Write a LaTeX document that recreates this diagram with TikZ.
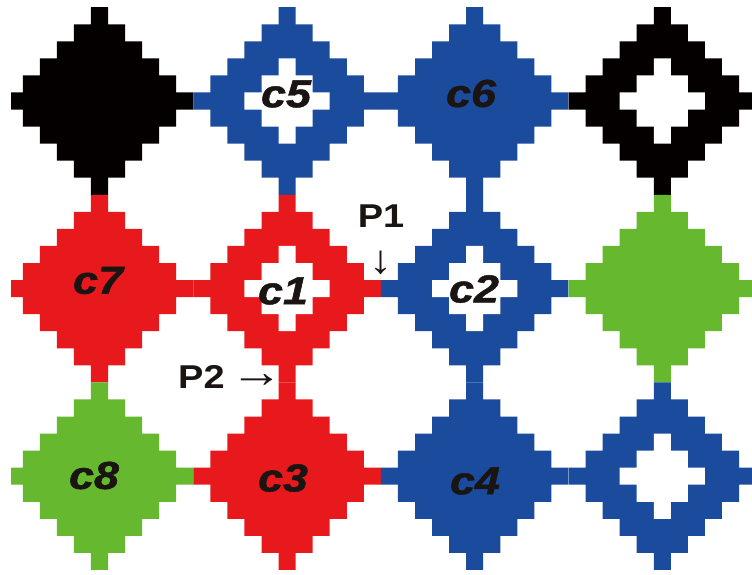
\documentclass[tikz,border=0pt]{standalone}
\usepackage{fontspec}
\setmainfont{Liberation Sans}
\newfontfamily\clabfont[FakeBold=1.2]{Liberation Sans}
\definecolor{cblk}{HTML}{050000}
\definecolor{cblu}{HTML}{1B4B9C}
\definecolor{cred}{HTML}{E8191D}
\definecolor{cgrn}{HTML}{66B82F}
\definecolor{ink}{HTML}{1A1412}
\tikzset{
  clab/.style={inner sep=0pt, text=ink, xscale=1.15,
    font=\clabfont\fontsize{39}{39}\selectfont\bfseries\itshape},
  plab/.style={inner sep=0pt, text=ink, align=center, xscale=1.15,
    font=\fontsize{33}{33}\selectfont\bfseries}
}
\begin{document}
\begin{tikzpicture}[x=1pt,y=-1pt]
\useasboundingbox (0,0) rectangle (752,574);
\fill[white] (0,0) rectangle (752,574);
\begin{scope}
\clip (11,0) rectangle (752,574);
\foreach \cx/\cy/\col/\hol in {0/0/cblk/0, 1/0/cblu/1, 2/0/cblu/0, 3/0/cblk/1,
  0/1/cred/0, 1/1/cred/1, 2/1/cblu/1, 3/1/cgrn/0,
  0/2/cgrn/0, 1/2/cred/0, 2/2/cblu/0, 3/2/cblu/1}{
  \pgfmathsetmacro\X{99.5+187.6*\cx}
  \pgfmathsetmacro\Y{101+187.6*\cy}
  \fill[\col] \foreach \j in {-5,...,5}{
    ({\X-(5.5-abs(\j))*17.05},{\Y+(\j-0.5)*17.05}) rectangle
    ({\X+(5.5-abs(\j))*17.05},{\Y+(\j+0.5)*17.05}) };
  \ifnum\hol=1
  \fill[white] \foreach \j in {-2,...,2}{
    ({\X-(2.5-abs(\j))*17.05},{\Y+(\j-0.5)*17.05}) rectangle
    ({\X+(2.5-abs(\j))*17.05},{\Y+(\j+0.5)*17.05}) };
  \fi
}
\end{scope}
\node[clab] (c5) at (286,94) {c5};
\node[clab] (c6) at (471,93.5) {c6};
\node[clab] (c7) at (98,280.5) {c7};
\node[clab] (c1) at (283,291) {c1};
\node[clab] (c2) at (474,289) {c2};
\node[clab] (c8) at (94,475.5) {c8};
\node[clab] (c3) at (283,478) {c3};
\node[clab] (c4) at (475,481) {c4};
\node[plab, anchor=north] (p1) at (381,205) {P1\\[13pt]{\fontsize{40}{40}\selectfont ↓}};
\node[plab, anchor=base west] (p2) at (178,388)
  {P2\hspace{5pt}\raisebox{1pt}{\fontsize{46}{46}\selectfont →}};
\end{tikzpicture}
\end{document}
